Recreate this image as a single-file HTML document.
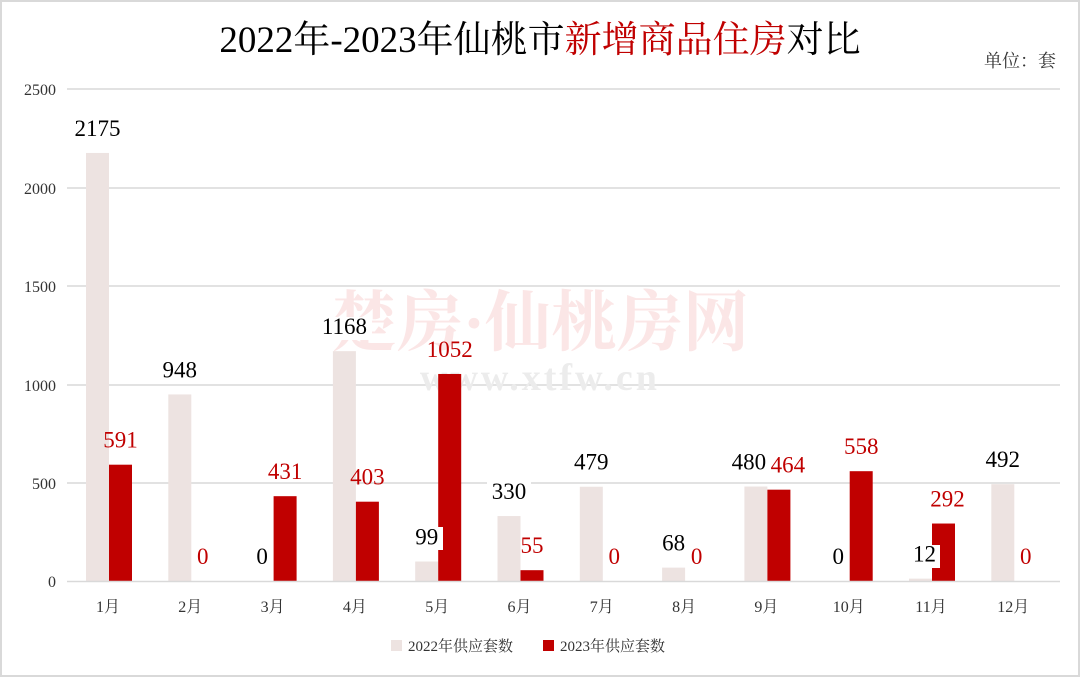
<!DOCTYPE html>
<html><head><meta charset="utf-8"><style>
html,body{margin:0;padding:0;background:#fff}
svg{display:block}
text{font-family:"Liberation Serif","Noto Serif CJK SC",serif}
</style></head><body>
<svg width="1080" height="677" viewBox="0 0 1080 677" xmlns="http://www.w3.org/2000/svg">
<rect x="1" y="1" width="1078" height="675" fill="#fff" stroke="#d9d9d9" stroke-width="2"/>
<text x="540" y="52" font-size="37" text-anchor="middle" fill="#000">2022年-2023年仙桃市<tspan fill="#c00000">新增商品住房</tspan>对比</text>
<text x="1056" y="67" font-size="18" text-anchor="end" fill="#333">单位：套</text>
<g stroke="#d9d9d9" stroke-width="1.5">
<line x1="67" y1="89" x2="1060" y2="89"/><line x1="67" y1="188" x2="1060" y2="188"/>
<line x1="67" y1="286" x2="1060" y2="286"/><line x1="67" y1="385" x2="1060" y2="385"/>
<line x1="67" y1="483" x2="1060" y2="483"/>
</g>
<g font-size="16" fill="#333" text-anchor="end">
<text x="56" y="95">2500</text><text x="56" y="194">2000</text><text x="56" y="292">1500</text>
<text x="56" y="391">1000</text><text x="56" y="489">500</text><text x="56" y="587">0</text>
</g>
<text x="540" y="345" font-size="66" font-weight="bold" text-anchor="middle" fill="#fbe6e6" font-family="Noto Sans CJK SC,sans-serif">楚房·仙桃房网</text>
<text x="540" y="390" font-size="38" font-weight="bold" text-anchor="middle" fill="#ececec" font-family="Liberation Sans,sans-serif" letter-spacing="3">www.xtfw.cn</text>
<g fill="#ede3e1">
<rect x="86" y="152.96" width="23" height="428.04"/>
<rect x="168.3" y="394.43" width="23" height="186.57"/>
<rect x="332.9" y="351.14" width="23" height="229.86"/>
<rect x="415.2" y="561.52" width="23" height="19.48"/>
<rect x="497.5" y="516.06" width="23" height="64.94"/>
<rect x="579.8" y="486.73" width="23" height="94.27"/>
<rect x="662.1" y="567.62" width="23" height="13.38"/>
<rect x="744.4" y="486.54" width="23" height="94.46"/>
<rect x="909" y="578.64" width="23" height="2.36"/>
<rect x="991.3" y="484.17" width="23" height="96.83"/>
</g>
<g fill="#c00000">
<rect x="109" y="464.69" width="23" height="116.31"/>
<rect x="273.6" y="496.18" width="23" height="84.82"/>
<rect x="355.9" y="501.69" width="23" height="79.31"/>
<rect x="438.2" y="373.97" width="23" height="207.03"/>
<rect x="520.5" y="570.18" width="23" height="10.82"/>
<rect x="767.4" y="489.68" width="23" height="91.32"/>
<rect x="849.7" y="471.19" width="23" height="109.81"/>
<rect x="932" y="523.53" width="23" height="57.47"/>
</g>
<line x1="67" y1="581.5" x2="1060" y2="581.5" stroke="#d9d9d9" stroke-width="1.5"/>
<g font-size="16" fill="#333" text-anchor="middle">
<text x="108" y="612">1月</text><text x="190.3" y="612">2月</text><text x="272.6" y="612">3月</text>
<text x="354.9" y="612">4月</text><text x="437.2" y="612">5月</text><text x="519.5" y="612">6月</text>
<text x="601.8" y="612">7月</text><text x="684.1" y="612">8月</text><text x="766.4" y="612">9月</text>
<text x="848.7" y="612">10月</text><text x="931" y="612">11月</text><text x="1013.3" y="612">12月</text>
</g>
<g fill="#fff">
<rect x="70" y="119" width="55" height="23"/>
<rect x="158" y="360" width="44" height="23"/>
<rect x="254" y="547" width="18" height="23"/>
<rect x="317" y="317" width="55" height="23"/>
<rect x="411" y="527" width="32" height="23"/>
<rect x="487" y="482" width="44" height="23"/>
<rect x="569" y="453" width="44" height="23"/>
<rect x="658" y="533" width="32" height="23"/>
<rect x="723" y="452" width="43" height="23"/>
<rect x="831" y="547" width="18" height="23"/>
<rect x="908" y="545" width="32" height="23"/>
<rect x="981" y="450" width="44" height="23"/>
</g>
<g font-size="23" fill="#000" text-anchor="middle">
<text x="97.5" y="136">2175</text>
<text x="179.8" y="377.4">948</text>
<text x="262.1" y="564">0</text>
<text x="344.4" y="334.1">1168</text>
<text x="426.7" y="544.5">99</text>
<text x="509" y="499">330</text>
<text x="591.3" y="469.7">479</text>
<text x="673.6" y="550.6">68</text>
<text x="748.9" y="469.5">480</text>
<text x="838.2" y="564">0</text>
<text x="924.5" y="561.6">12</text>
<text x="1002.8" y="467.2">492</text>
</g>
<g font-size="23" fill="#c00000" text-anchor="middle">
<text x="120.5" y="447.7">591</text>
<text x="202.8" y="564">0</text>
<text x="285.1" y="479.2">431</text>
<text x="367.4" y="484.7">403</text>
<text x="449.7" y="357">1052</text>
<text x="532" y="553.2">55</text>
<text x="614.3" y="564">0</text>
<text x="696.6" y="564">0</text>
<text x="787.9" y="472.7">464</text>
<text x="861.2" y="454.2">558</text>
<text x="947.5" y="506.5">292</text>
<text x="1025.8" y="564">0</text>
</g>
<rect x="391" y="640" width="11" height="11" fill="#ede3e1"/>
<text x="408" y="651" font-size="15" fill="#333">2022年供应套数</text>
<rect x="543" y="640" width="11" height="11" fill="#c00000"/>
<text x="560" y="651" font-size="15" fill="#333">2023年供应套数</text>
</svg>
</body></html>
